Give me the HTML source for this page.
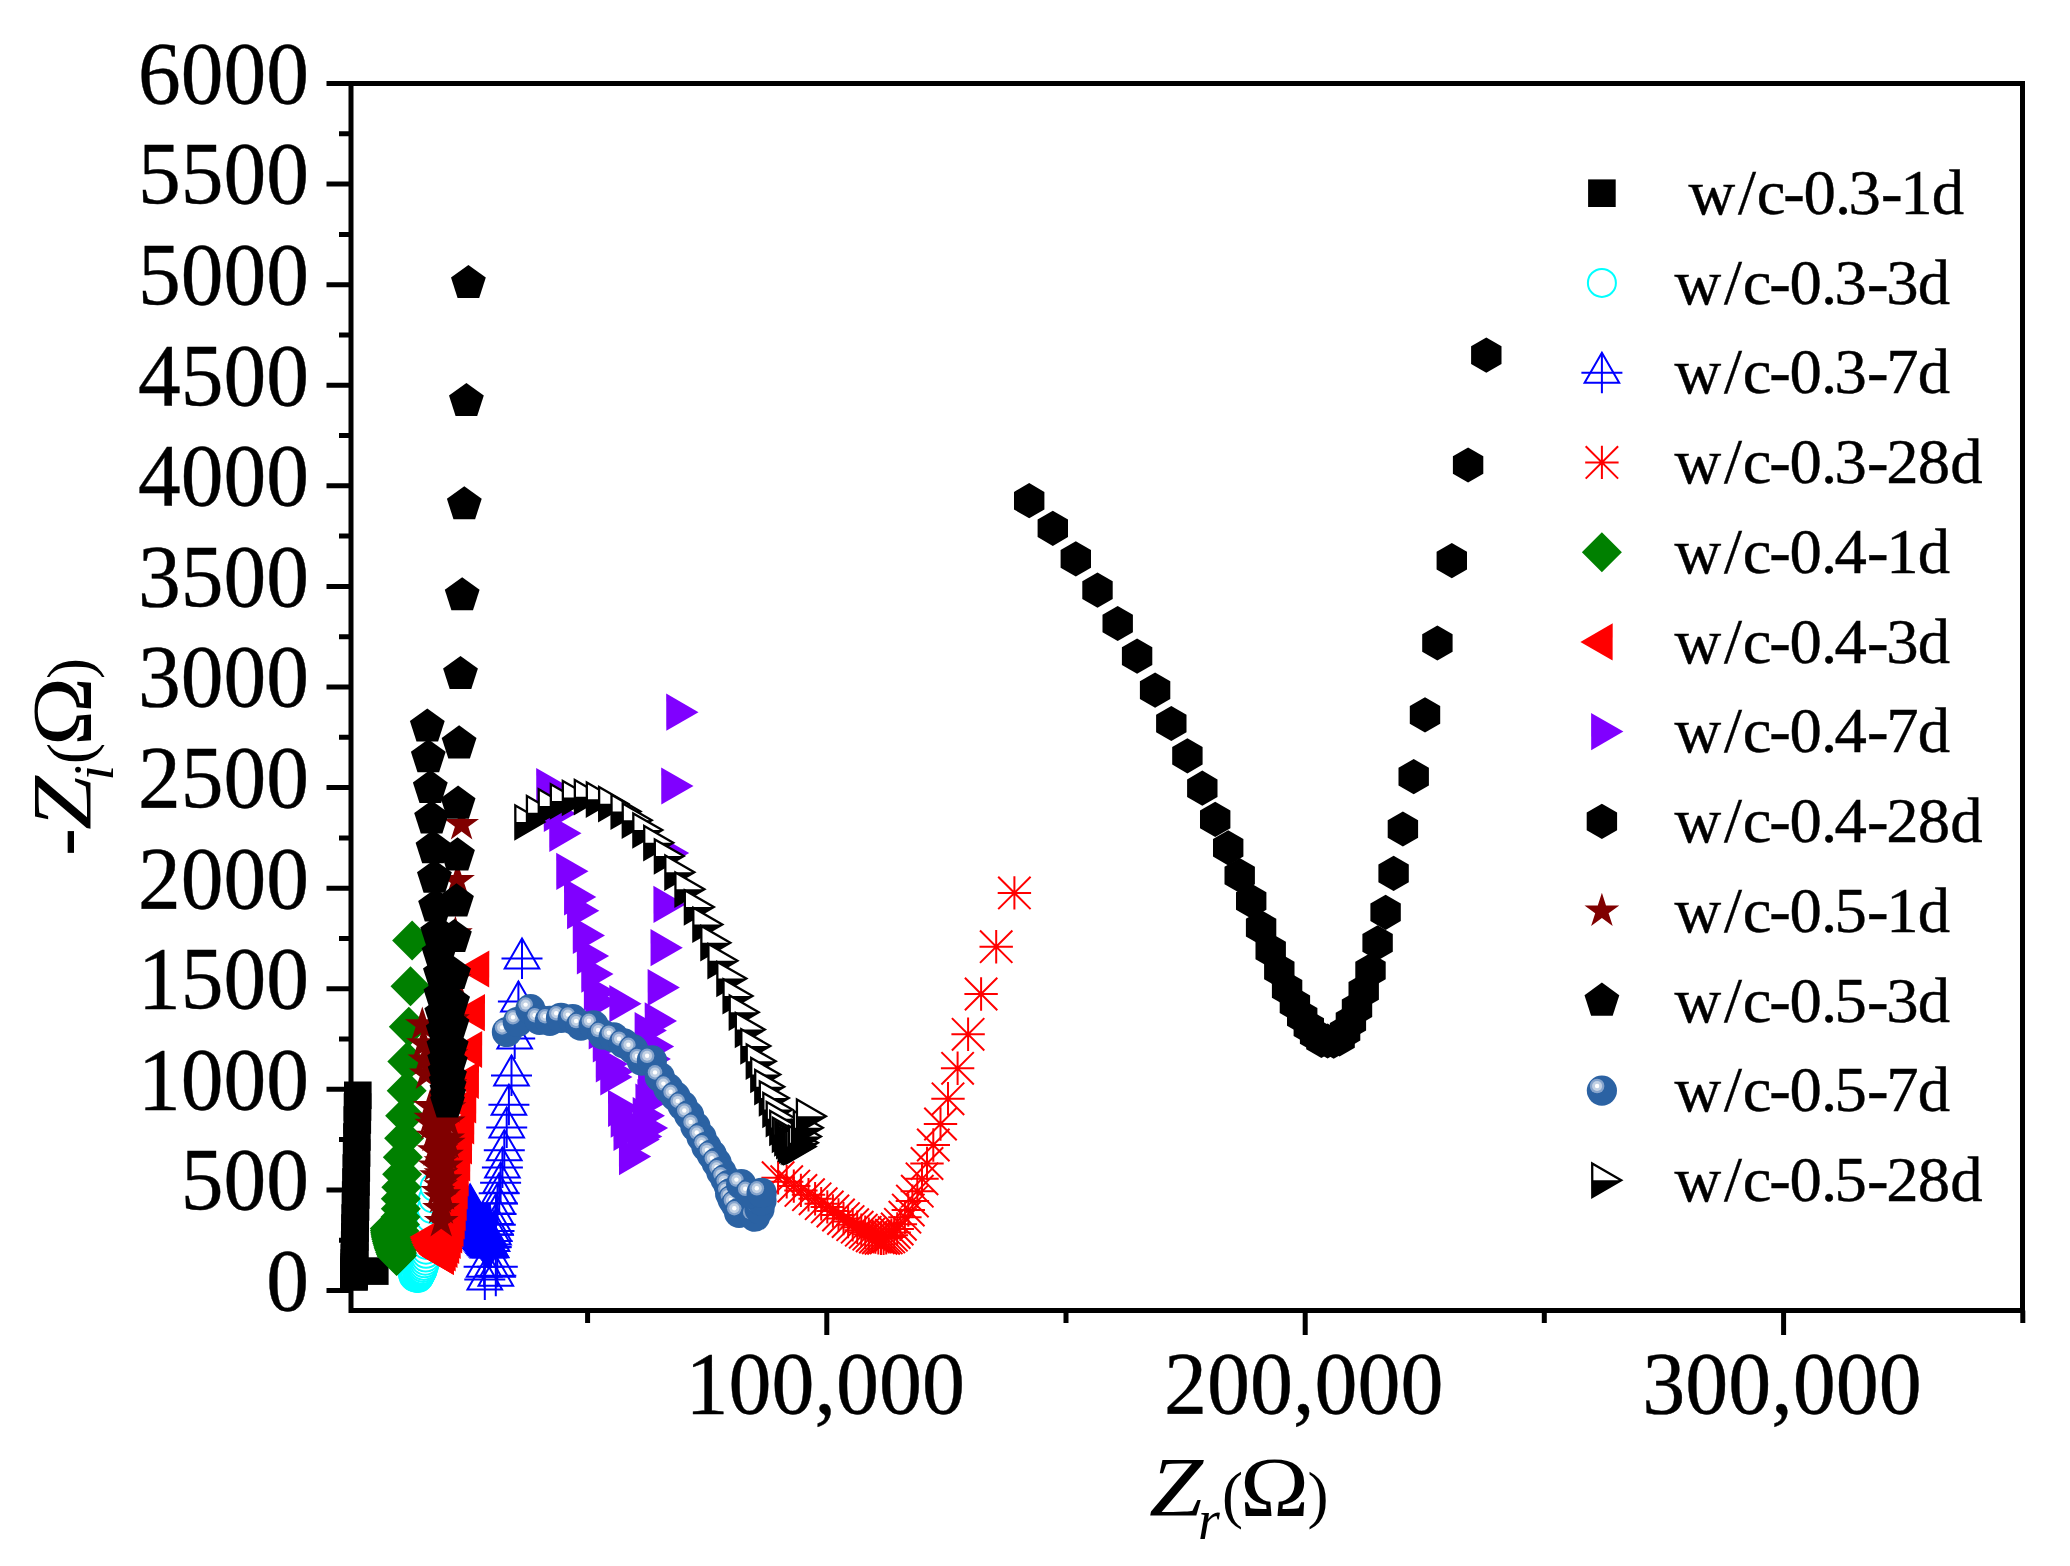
<!DOCTYPE html>
<html lang="en"><head><meta charset="utf-8"><title>Nyquist plot</title><style>html,body{margin:0;padding:0;background:#fff}svg{display:block}</style></head><body>
<svg width="2070" height="1566" viewBox="0 0 2070 1566">
<rect width="2070" height="1566" fill="#ffffff"/>
<defs><rect id="m1" x="-13.8" y="-13.8" width="27.6" height="27.6" fill="#000"/><circle id="m2" r="14" fill="#fff" stroke="#00ffff" stroke-width="2"/><g id="m3" fill="none" stroke="#0000ff" stroke-width="2"><polygon points="0,-20 17.3,10 -17.3,10"/><path d="M-20.5 0H20.5M0 -20V20.5"/></g><path id="m4" d="M-16.7 0H16.7M0 -16.7V16.7M-16.2 -16.2L16.2 16.2M-16.2 16.2L16.2 -16.2" fill="none" stroke="#ff0000" stroke-width="2"/><polygon id="m5" points="0,-20 20,0 0,20 -20,0" fill="#008000"/><polygon id="m6" points="-21.5,0 10.8,-18.6 10.7,18.6" fill="#ff0000"/><polygon id="m7" points="21.5,0 -10.7,18.6 -10.8,-18.6" fill="#8000ff"/><polygon id="m8" points="0,-17.6 15.2,-8.8 15.2,8.8 0,17.6 -15.2,8.8 -15.2,-8.8" fill="#000"/><polygon id="m9" points="0,-18.3 4.1,-5.7 17.4,-5.7 6.7,2.2 10.8,14.8 0,7 -10.8,14.8 -6.7,2.2 -17.4,-5.7 -4.1,-5.7" fill="#800000"/><polygon id="m10" points="0,-18.3 17.4,-5.7 10.8,14.8 -10.8,14.8 -17.4,-5.7" fill="#000"/><g id="m11"><circle r="15.1" fill="#2b62a3"/><circle cx="-4.8" cy="-4.6" r="7.3" fill="#86a4cc"/><circle cx="-4.8" cy="-4.6" r="5" fill="#c2d1e4"/><circle cx="-4.8" cy="-4.6" r="2.2" fill="#ffffff"/></g><g id="m12"><polygon points="19.3,0 -9.6,16.7 -9.7,-16.7" fill="#fff"/><polygon points="19.3,0 -9.6,16.7 -9.6,0" fill="#000"/><polygon points="19.3,0 -9.6,16.7 -9.7,-16.7" fill="none" stroke="#000" stroke-width="2.3" stroke-linejoin="miter"/></g></defs>
<g>
<use href="#m1" x="374.8" y="1271.1"/><use href="#m1" x="354" y="1277"/><use href="#m1" x="354" y="1276"/><use href="#m1" x="354" y="1275"/><use href="#m1" x="354.1" y="1273.5"/><use href="#m1" x="354.1" y="1272"/><use href="#m1" x="354.1" y="1270"/><use href="#m1" x="354.2" y="1267"/><use href="#m1" x="354.3" y="1263"/><use href="#m1" x="354.4" y="1258"/><use href="#m1" x="354.5" y="1252"/><use href="#m1" x="354.7" y="1245"/><use href="#m1" x="354.8" y="1237"/><use href="#m1" x="355" y="1228"/><use href="#m1" x="355.2" y="1218"/><use href="#m1" x="355.5" y="1207"/><use href="#m1" x="355.7" y="1195"/><use href="#m1" x="356" y="1182"/><use href="#m1" x="356.3" y="1168"/><use href="#m1" x="356.6" y="1153"/><use href="#m1" x="356.9" y="1137"/><use href="#m1" x="357.3" y="1120"/><use href="#m1" x="357.5" y="1107"/><use href="#m1" x="357.8" y="1095.3"/>
</g>
<g>
<use href="#m2" x="410.5" y="1262"/><use href="#m2" x="411.2" y="1266.5"/><use href="#m2" x="412" y="1270.5"/><use href="#m2" x="412.8" y="1273.5"/><use href="#m2" x="413.5" y="1276"/><use href="#m2" x="414.4" y="1277"/><use href="#m2" x="415.5" y="1277.5"/><use href="#m2" x="416.9" y="1278"/><use href="#m2" x="418.4" y="1278"/><use href="#m2" x="418.8" y="1277.2"/><use href="#m2" x="419.3" y="1276.3"/><use href="#m2" x="419.8" y="1275.4"/><use href="#m2" x="420.3" y="1274.5"/><use href="#m2" x="420.8" y="1273.6"/><use href="#m2" x="421.3" y="1272.6"/><use href="#m2" x="421.8" y="1271.6"/><use href="#m2" x="422.2" y="1270.7"/><use href="#m2" x="422.6" y="1269.7"/><use href="#m2" x="423.2" y="1267.9"/><use href="#m2" x="423.9" y="1265.9"/><use href="#m2" x="424.6" y="1263.3"/><use href="#m2" x="425.3" y="1260.7"/><use href="#m2" x="425.7" y="1257.6"/><use href="#m2" x="426" y="1253.8"/><use href="#m2" x="426" y="1249.7"/><use href="#m2" x="426.5" y="1245"/><use href="#m2" x="427.2" y="1239.5"/><use href="#m2" x="428" y="1233"/><use href="#m2" x="429" y="1226"/><use href="#m2" x="430.2" y="1218"/><use href="#m2" x="431.5" y="1209"/><use href="#m2" x="433" y="1198.5"/><use href="#m2" x="434.5" y="1187"/>
</g>
<g>
<use href="#m3" x="484.8" y="1279.5"/><use href="#m3" x="495.8" y="1275.7"/><use href="#m3" x="484.1" y="1266.8"/><use href="#m3" x="497.3" y="1266.8"/><use href="#m3" x="470.1" y="1204.5"/><use href="#m3" x="470.4" y="1206"/><use href="#m3" x="470.7" y="1207.5"/><use href="#m3" x="470.9" y="1209"/><use href="#m3" x="471.2" y="1210.5"/><use href="#m3" x="471.5" y="1212"/><use href="#m3" x="471.8" y="1213.5"/><use href="#m3" x="472.2" y="1215"/><use href="#m3" x="472.5" y="1216.5"/><use href="#m3" x="472.8" y="1218"/><use href="#m3" x="473.2" y="1219.5"/><use href="#m3" x="473.5" y="1221"/><use href="#m3" x="474" y="1222.4"/><use href="#m3" x="474.5" y="1223.9"/><use href="#m3" x="474.9" y="1225.3"/><use href="#m3" x="475.4" y="1226.8"/><use href="#m3" x="475.9" y="1228.2"/><use href="#m3" x="476.4" y="1229.7"/><use href="#m3" x="477" y="1231.1"/><use href="#m3" x="477.7" y="1232.4"/><use href="#m3" x="478.4" y="1233.8"/><use href="#m3" x="479.1" y="1235.2"/><use href="#m3" x="479.8" y="1236.5"/><use href="#m3" x="480.5" y="1237.9"/><use href="#m3" x="481.3" y="1239.2"/><use href="#m3" x="482.2" y="1240.4"/><use href="#m3" x="483.1" y="1241.7"/><use href="#m3" x="483.9" y="1242.9"/><use href="#m3" x="484.8" y="1244.2"/><use href="#m3" x="485.8" y="1245.3"/><use href="#m3" x="486.9" y="1246.4"/><use href="#m3" x="488" y="1247.5"/><use href="#m3" x="489.5" y="1247.3"/><use href="#m3" x="491" y="1247"/><use href="#m3" x="491" y="1247.2"/><use href="#m3" x="492" y="1240.9"/><use href="#m3" x="493.5" y="1234.6"/><use href="#m3" x="494" y="1231.1"/><use href="#m3" x="495.3" y="1224.8"/><use href="#m3" x="496" y="1213.9"/><use href="#m3" x="497.5" y="1203.6"/><use href="#m3" x="499.2" y="1193.2"/><use href="#m3" x="500.6" y="1182.8"/><use href="#m3" x="502.4" y="1167.6"/><use href="#m3" x="504.3" y="1150.3"/><use href="#m3" x="506.7" y="1127.5"/><use href="#m3" x="508.9" y="1104.7"/><use href="#m3" x="511.5" y="1075.4"/><use href="#m3" x="514.7" y="1038.6"/><use href="#m3" x="518.4" y="1001.6"/><use href="#m3" x="522" y="958.4"/>
</g>
<g>
<use href="#m4" x="778.1" y="1177.7"/><use href="#m4" x="786.7" y="1181.7"/><use href="#m4" x="793.8" y="1186.1"/><use href="#m4" x="800.9" y="1190.4"/><use href="#m4" x="808.5" y="1194.7"/><use href="#m4" x="815.1" y="1198.8"/><use href="#m4" x="821.2" y="1203.7"/><use href="#m4" x="827.3" y="1206.9"/><use href="#m4" x="832.9" y="1211"/><use href="#m4" x="838.5" y="1215"/><use href="#m4" x="843.5" y="1218.6"/><use href="#m4" x="848.1" y="1221.6"/><use href="#m4" x="852.7" y="1224.7"/><use href="#m4" x="857.2" y="1227.2"/><use href="#m4" x="861.3" y="1230.2"/><use href="#m4" x="865.2" y="1232.3"/><use href="#m4" x="868.8" y="1234.2"/><use href="#m4" x="872.2" y="1235.8"/><use href="#m4" x="875.4" y="1237"/><use href="#m4" x="878.3" y="1237.8"/><use href="#m4" x="881" y="1238.3"/><use href="#m4" x="883.6" y="1238.3"/><use href="#m4" x="886.2" y="1237.9"/><use href="#m4" x="888.8" y="1236.9"/><use href="#m4" x="891.4" y="1235.2"/><use href="#m4" x="894.2" y="1232.6"/><use href="#m4" x="897.2" y="1229"/><use href="#m4" x="900.4" y="1224.3"/><use href="#m4" x="904.9" y="1217.2"/><use href="#m4" x="908.3" y="1210.1"/><use href="#m4" x="912.4" y="1201.1"/><use href="#m4" x="917.3" y="1191.2"/><use href="#m4" x="922" y="1178.8"/><use href="#m4" x="927" y="1163.5"/><use href="#m4" x="933.3" y="1145"/><use href="#m4" x="940.5" y="1124"/><use href="#m4" x="948" y="1098.8"/><use href="#m4" x="957.6" y="1068.3"/><use href="#m4" x="968.1" y="1034.3"/><use href="#m4" x="981.1" y="994"/><use href="#m4" x="996.2" y="946.7"/><use href="#m4" x="1014.4" y="892.9"/>
</g>
<g>
<use href="#m5" x="389.8" y="1228.6"/><use href="#m5" x="389.9" y="1230.4"/><use href="#m5" x="390.1" y="1232.3"/><use href="#m5" x="390.3" y="1234.1"/><use href="#m5" x="390.6" y="1235.9"/><use href="#m5" x="391" y="1237.8"/><use href="#m5" x="391.4" y="1239.6"/><use href="#m5" x="391.8" y="1241.4"/><use href="#m5" x="392.3" y="1243.3"/><use href="#m5" x="392.8" y="1245.1"/><use href="#m5" x="393.4" y="1246.9"/><use href="#m5" x="393.9" y="1248.8"/><use href="#m5" x="394.6" y="1250.6"/><use href="#m5" x="395.2" y="1252.4"/><use href="#m5" x="395.9" y="1254.3"/><use href="#m5" x="396.6" y="1256.1"/><use href="#m5" x="396.8" y="1255.5"/><use href="#m5" x="397" y="1253"/><use href="#m5" x="397.5" y="1250"/><use href="#m5" x="398" y="1246.5"/><use href="#m5" x="398.5" y="1242"/><use href="#m5" x="399" y="1237"/><use href="#m5" x="399.5" y="1231"/><use href="#m5" x="400" y="1224.5"/><use href="#m5" x="400.5" y="1217"/><use href="#m5" x="400.8" y="1208.7"/><use href="#m5" x="400.8" y="1198.7"/><use href="#m5" x="401.3" y="1187.2"/><use href="#m5" x="402.1" y="1174.2"/><use href="#m5" x="402.8" y="1157.3"/><use href="#m5" x="404.1" y="1138.2"/><use href="#m5" x="405.1" y="1115.8"/><use href="#m5" x="406.7" y="1090.7"/><use href="#m5" x="407.3" y="1061.4"/><use href="#m5" x="408.8" y="1026.7"/><use href="#m5" x="410.5" y="986.2"/><use href="#m5" x="412.1" y="940.6"/>
</g>
<g>
<use href="#m6" x="431" y="1237"/><use href="#m6" x="431.5" y="1238.7"/><use href="#m6" x="432" y="1240.4"/><use href="#m6" x="432.6" y="1242.2"/><use href="#m6" x="433.3" y="1243.8"/><use href="#m6" x="434" y="1245.5"/><use href="#m6" x="434.9" y="1247.1"/><use href="#m6" x="435.8" y="1248.6"/><use href="#m6" x="436.8" y="1250.1"/><use href="#m6" x="437.9" y="1251.5"/><use href="#m6" x="439" y="1252.9"/><use href="#m6" x="440.3" y="1254.2"/><use href="#m6" x="441.7" y="1255.2"/><use href="#m6" x="443.2" y="1256.3"/><use href="#m6" x="443.2" y="1256.3"/><use href="#m6" x="445" y="1253"/><use href="#m6" x="446.8" y="1249.5"/><use href="#m6" x="448.5" y="1245.5"/><use href="#m6" x="450" y="1240.5"/><use href="#m6" x="451.5" y="1235"/><use href="#m6" x="452.8" y="1228.5"/><use href="#m6" x="454" y="1221"/><use href="#m6" x="455" y="1212.5"/><use href="#m6" x="456" y="1202.5"/><use href="#m6" x="457" y="1191"/><use href="#m6" x="458" y="1178"/><use href="#m6" x="459.5" y="1163"/><use href="#m6" x="461.3" y="1146"/><use href="#m6" x="463.5" y="1126"/><use href="#m6" x="465.5" y="1105"/><use href="#m6" x="468.2" y="1080.4"/><use href="#m6" x="471.4" y="1049.5"/><use href="#m6" x="474.2" y="1012.6"/><use href="#m6" x="478.5" y="969"/>
</g>
<g>
<use href="#m7" x="547" y="786.6"/><use href="#m7" x="554.5" y="813.4"/><use href="#m7" x="560" y="833.3"/><use href="#m7" x="567" y="871.3"/><use href="#m7" x="574.8" y="896.9"/><use href="#m7" x="577.8" y="910.7"/><use href="#m7" x="583.5" y="935.4"/><use href="#m7" x="587.6" y="956"/><use href="#m7" x="592" y="974.1"/><use href="#m7" x="594.6" y="992"/><use href="#m7" x="596" y="1002"/><use href="#m7" x="599.4" y="1031"/><use href="#m7" x="603.5" y="1043.9"/><use href="#m7" x="606.5" y="1064"/><use href="#m7" x="612" y="1071.5"/><use href="#m7" x="611" y="1076.9"/><use href="#m7" x="618.8" y="1108.3"/><use href="#m7" x="621.4" y="1119.2"/><use href="#m7" x="624.2" y="1132.4"/><use href="#m7" x="629.7" y="1156.6"/><use href="#m7" x="638.3" y="1139.6"/><use href="#m7" x="640.8" y="1136.4"/><use href="#m7" x="646.6" y="1128.1"/><use href="#m7" x="643.5" y="1115.7"/><use href="#m7" x="646.2" y="1102"/><use href="#m7" x="648.2" y="1097.5"/><use href="#m7" x="649" y="1085"/><use href="#m7" x="649.2" y="1072"/><use href="#m7" x="649.4" y="1058.9"/><use href="#m7" x="652.7" y="1046.6"/><use href="#m7" x="645.4" y="1030.6"/><use href="#m7" x="655.5" y="1020.9"/><use href="#m7" x="620.1" y="1003.7"/><use href="#m7" x="658.4" y="987.5"/><use href="#m7" x="661.3" y="947.7"/><use href="#m7" x="664.2" y="904.4"/><use href="#m7" x="667.7" y="853.1"/><use href="#m7" x="672" y="786"/><use href="#m7" x="677" y="712.2"/>
</g>
<g>
<use href="#m8" x="1029.2" y="500.7"/><use href="#m8" x="1052.8" y="528.3"/><use href="#m8" x="1075.8" y="558.9"/><use href="#m8" x="1097.5" y="590.1"/><use href="#m8" x="1117.7" y="623.5"/><use href="#m8" x="1137.1" y="656.1"/><use href="#m8" x="1155.1" y="690.1"/><use href="#m8" x="1171.3" y="723.5"/><use href="#m8" x="1187.4" y="755.8"/><use href="#m8" x="1202.3" y="788.2"/><use href="#m8" x="1215.2" y="819.4"/><use href="#m8" x="1228.2" y="847.8"/><use href="#m8" x="1239.7" y="875.5"/><use href="#m8" x="1251.2" y="901"/><use href="#m8" x="1261.1" y="927.6"/><use href="#m8" x="1270.7" y="950.5"/><use href="#m8" x="1279.3" y="970.5"/><use href="#m8" x="1287.1" y="988.9"/><use href="#m8" x="1294.9" y="1004.2"/><use href="#m8" x="1302.2" y="1016.9"/><use href="#m8" x="1308.8" y="1027.1"/><use href="#m8" x="1315.1" y="1034.9"/><use href="#m8" x="1321.4" y="1040.4"/><use href="#m8" x="1327.6" y="1041"/><use href="#m8" x="1333.7" y="1041.2"/><use href="#m8" x="1339.6" y="1039"/><use href="#m8" x="1345.1" y="1031.8"/><use href="#m8" x="1350.9" y="1021.6"/><use href="#m8" x="1357" y="1008.3"/><use href="#m8" x="1363.7" y="990.9"/><use href="#m8" x="1370.5" y="970.5"/><use href="#m8" x="1377.6" y="942.9"/><use href="#m8" x="1385.6" y="912.3"/><use href="#m8" x="1393.6" y="873.4"/><use href="#m8" x="1402.9" y="829"/><use href="#m8" x="1413.7" y="776.6"/><use href="#m8" x="1425" y="714.9"/><use href="#m8" x="1437.4" y="643"/><use href="#m8" x="1451.8" y="560.6"/><use href="#m8" x="1468.1" y="465"/><use href="#m8" x="1486.3" y="355.1"/>
</g>
<g>
<use href="#m9" x="440" y="1125"/><use href="#m9" x="440.5" y="1138"/><use href="#m9" x="441" y="1150"/><use href="#m9" x="441" y="1162"/><use href="#m9" x="441" y="1174"/><use href="#m9" x="440.5" y="1186"/><use href="#m9" x="440.5" y="1198"/><use href="#m9" x="422.3" y="1024.9"/><use href="#m9" x="423.5" y="1043.9"/><use href="#m9" x="424.9" y="1060.2"/><use href="#m9" x="426.4" y="1074.3"/><use href="#m9" x="430.3" y="1106.6"/><use href="#m9" x="430.9" y="1118.5"/><use href="#m9" x="431.7" y="1124.5"/><use href="#m9" x="433" y="1136.4"/><use href="#m9" x="434.1" y="1151"/><use href="#m9" x="435.2" y="1166.3"/><use href="#m9" x="436.5" y="1176"/><use href="#m9" x="437.9" y="1191.8"/><use href="#m9" x="439.5" y="1208.6"/><use href="#m9" x="441.2" y="1221.8"/><use href="#m9" x="442.5" y="1209"/><use href="#m9" x="443.6" y="1195"/><use href="#m9" x="445" y="1180"/><use href="#m9" x="446" y="1166.3"/><use href="#m9" x="446.5" y="1155.4"/><use href="#m9" x="448.2" y="1143.5"/><use href="#m9" x="447.6" y="1139.1"/><use href="#m9" x="448.2" y="1122.3"/><use href="#m9" x="449" y="1108"/><use href="#m9" x="450" y="1085"/><use href="#m9" x="451" y="1055"/><use href="#m9" x="452.5" y="1020"/><use href="#m9" x="454" y="980"/><use href="#m9" x="455.4" y="934"/><use href="#m9" x="457.5" y="880.8"/><use href="#m9" x="461.6" y="824.6"/>
</g>
<g>
<use href="#m10" x="427.3" y="726.8"/><use href="#m10" x="428.3" y="757.5"/><use href="#m10" x="430.3" y="788.1"/><use href="#m10" x="431.6" y="818.8"/><use href="#m10" x="433" y="848.4"/><use href="#m10" x="434.4" y="878"/><use href="#m10" x="435.6" y="906.7"/><use href="#m10" x="437.7" y="933.2"/><use href="#m10" x="439" y="954"/><use href="#m10" x="440.4" y="974.2"/><use href="#m10" x="440.9" y="995.3"/><use href="#m10" x="441.8" y="1013.9"/><use href="#m10" x="443.2" y="1031.1"/><use href="#m10" x="443.9" y="1047.2"/><use href="#m10" x="444.7" y="1061"/><use href="#m10" x="445.2" y="1072.5"/><use href="#m10" x="446.2" y="1082.8"/><use href="#m10" x="447" y="1091"/><use href="#m10" x="447.3" y="1097"/><use href="#m10" x="447.5" y="1102.8"/><use href="#m10" x="448.6" y="1095.5"/><use href="#m10" x="449.1" y="1087.4"/><use href="#m10" x="449.5" y="1077.1"/><use href="#m10" x="450.3" y="1063.3"/><use href="#m10" x="451.2" y="1047.2"/><use href="#m10" x="452" y="1025.4"/><use href="#m10" x="452.6" y="1002.4"/><use href="#m10" x="453.5" y="974.2"/><use href="#m10" x="454.4" y="937.3"/><use href="#m10" x="456.5" y="901.6"/><use href="#m10" x="457.5" y="855.6"/><use href="#m10" x="458.1" y="803.9"/><use href="#m10" x="459.1" y="743.6"/><use href="#m10" x="460.5" y="674.3"/><use href="#m10" x="462.2" y="595.5"/><use href="#m10" x="464.3" y="504.5"/><use href="#m10" x="466.4" y="401.3"/><use href="#m10" x="468.4" y="283.2"/>
</g>
<g>
<use href="#m11" x="506.9" y="1032"/><use href="#m11" x="517.8" y="1021.8"/><use href="#m11" x="530.4" y="1009.2"/><use href="#m11" x="539.5" y="1019.8"/><use href="#m11" x="549.8" y="1020.8"/><use href="#m11" x="561" y="1017.9"/><use href="#m11" x="572.7" y="1019.2"/><use href="#m11" x="580.9" y="1025.6"/><use href="#m11" x="593.7" y="1025.4"/><use href="#m11" x="602.9" y="1034.6"/><use href="#m11" x="613.6" y="1037.3"/><use href="#m11" x="623.8" y="1043.3"/><use href="#m11" x="633.2" y="1049.4"/><use href="#m11" x="641.7" y="1060.6"/><use href="#m11" x="651.9" y="1060.4"/><use href="#m11" x="659.8" y="1077"/><use href="#m11" x="668.2" y="1088.2"/><use href="#m11" x="675.4" y="1096.4"/><use href="#m11" x="682.5" y="1105.5"/><use href="#m11" x="689.1" y="1115.1"/><use href="#m11" x="695.4" y="1126.5"/><use href="#m11" x="701.5" y="1137.1"/><use href="#m11" x="706.4" y="1146.8"/><use href="#m11" x="711.7" y="1154.5"/><use href="#m11" x="716.6" y="1162.7"/><use href="#m11" x="721.3" y="1171.9"/><use href="#m11" x="725.4" y="1179"/><use href="#m11" x="728.5" y="1185.2"/><use href="#m11" x="730.1" y="1193.4"/><use href="#m11" x="732.6" y="1199.5"/><use href="#m11" x="735.7" y="1204.6"/><use href="#m11" x="739.1" y="1212.8"/><use href="#m11" x="755" y="1216.7"/><use href="#m11" x="759.5" y="1209"/><use href="#m11" x="761.5" y="1200.5"/><use href="#m11" x="741.2" y="1184.2"/><use href="#m11" x="750" y="1193.4"/><use href="#m11" x="761.6" y="1192.9"/>
</g>
<g>
<use href="#m12" x="525" y="822.1"/><use href="#m12" x="536.6" y="812.8"/><use href="#m12" x="548.4" y="806"/><use href="#m12" x="560.5" y="801"/><use href="#m12" x="572.5" y="797.6"/><use href="#m12" x="584.5" y="796.7"/><use href="#m12" x="596.5" y="799.2"/><use href="#m12" x="608.8" y="803.8"/><use href="#m12" x="621.2" y="811.4"/><use href="#m12" x="632.4" y="820.3"/><use href="#m12" x="643" y="830.1"/><use href="#m12" x="653.9" y="842.7"/><use href="#m12" x="664.5" y="856.1"/><use href="#m12" x="675" y="872.2"/><use href="#m12" x="685.1" y="889.2"/><use href="#m12" x="694.5" y="907"/><use href="#m12" x="703" y="924.4"/><use href="#m12" x="711" y="942.8"/><use href="#m12" x="718.1" y="960.7"/><use href="#m12" x="727" y="978.6"/><use href="#m12" x="733.2" y="995.9"/><use href="#m12" x="739.4" y="1012.3"/><use href="#m12" x="745.5" y="1029.6"/><use href="#m12" x="751" y="1046"/><use href="#m12" x="756.4" y="1061.3"/><use href="#m12" x="760.9" y="1074.6"/><use href="#m12" x="764.9" y="1086.7"/><use href="#m12" x="769.5" y="1098.1"/><use href="#m12" x="773" y="1109.6"/><use href="#m12" x="776.4" y="1118.8"/><use href="#m12" x="779.9" y="1127.6"/><use href="#m12" x="782.5" y="1134.5"/><use href="#m12" x="784.9" y="1138"/><use href="#m12" x="786.8" y="1140.7"/><use href="#m12" x="788.3" y="1143.7"/><use href="#m12" x="789.8" y="1145.2"/><use href="#m12" x="791.4" y="1146.3"/><use href="#m12" x="792.5" y="1146.8"/><use href="#m12" x="793.7" y="1147"/><use href="#m12" x="794.5" y="1146.9"/><use href="#m12" x="796.3" y="1146.6"/><use href="#m12" x="798.6" y="1142.8"/><use href="#m12" x="801.6" y="1136.6"/><use href="#m12" x="803.5" y="1127.8"/><use href="#m12" x="806.6" y="1116.3"/>
</g>
<g stroke="#000" stroke-width="5" fill="none">
<rect x="351" y="83.5" width="1671.5" height="1227"/>
<path d="M326.5 1290.5H351M339 1240.2H351M326.5 1189.9H351M339 1139.6H351M326.5 1089.3H351M339 1039H351M326.5 988.8H351M339 938.5H351M326.5 888.2H351M339 837.9H351M326.5 787.6H351M339 737.3H351M326.5 687H351M339 636.7H351M326.5 586.4H351M339 536.1H351M326.5 485.8H351M339 435.5H351M326.5 385.2H351M339 335H351M326.5 284.7H351M339 234.4H351M326.5 184.1H351M339 133.8H351M326.5 83.5H351M587.6 1310.5V1323M826.8 1310.5V1335M1066 1310.5V1323M1305.2 1310.5V1335M1544.3 1310.5V1323M1783.6 1310.5V1335M2022.8 1310.5V1323"/>
</g>
<g fill="#000" stroke="#000" stroke-width="0.4" style="font-family:'Liberation Serif','DejaVu Serif',serif">
<text transform="translate(309 1309.8) scale(1.006 1.055)" font-size="85" text-anchor="end">0</text>
<text transform="translate(309 1209.2) scale(1.006 1.055)" font-size="85" text-anchor="end">500</text>
<text transform="translate(309 1108.6) scale(1.006 1.055)" font-size="85" text-anchor="end">1000</text>
<text transform="translate(309 1008) scale(1.006 1.055)" font-size="85" text-anchor="end">1500</text>
<text transform="translate(309 907.5) scale(1.006 1.055)" font-size="85" text-anchor="end">2000</text>
<text transform="translate(309 806.9) scale(1.006 1.055)" font-size="85" text-anchor="end">2500</text>
<text transform="translate(309 706.3) scale(1.006 1.055)" font-size="85" text-anchor="end">3000</text>
<text transform="translate(309 605.7) scale(1.006 1.055)" font-size="85" text-anchor="end">3500</text>
<text transform="translate(309 505.1) scale(1.006 1.055)" font-size="85" text-anchor="end">4000</text>
<text transform="translate(309 404.6) scale(1.006 1.055)" font-size="85" text-anchor="end">4500</text>
<text transform="translate(309 304) scale(1.006 1.055)" font-size="85" text-anchor="end">5000</text>
<text transform="translate(309 203.4) scale(1.006 1.055)" font-size="85" text-anchor="end">5500</text>
<text transform="translate(309 102.8) scale(1.006 1.055)" font-size="85" text-anchor="end">6000</text>
<text transform="translate(825.2 1412.5) scale(1.012 1.055)" font-size="85" text-anchor="middle">100,000</text>
<text transform="translate(1303.7 1412.5) scale(1.012 1.055)" font-size="85" text-anchor="middle">200,000</text>
<text transform="translate(1782.1 1412.5) scale(1.012 1.055)" font-size="85" text-anchor="middle">300,000</text>
<text transform="translate(1688 213.8) scale(1.06 1.03)" font-size="61" dx="0.5 2.6 0.85 -2.2 -1.2 -0.85 -2.5 0.3 -2.2 -0.7">w/c-0.3-1d</text>
<text transform="translate(1674 303.5) scale(1.06 1.03)" font-size="61" dx="0.5 2.6 0.85 -2.2 -1.2 -0.85 -2.5 0.3 -2.2 -0.7">w/c-0.3-3d</text>
<text transform="translate(1674 393.3) scale(1.06 1.03)" font-size="61" dx="0.5 2.6 0.85 -2.2 -1.2 -0.85 -2.5 0.3 -2.2 -0.7">w/c-0.3-7d</text>
<text transform="translate(1674 483) scale(1.06 1.03)" font-size="61" dx="0.5 2.6 0.85 -2.2 -1.2 -0.85 -2.5 0.3 -2.2 -0.7">w/c-0.3-28d</text>
<text transform="translate(1674 572.8) scale(1.06 1.03)" font-size="61" dx="0.5 2.6 0.85 -2.2 -1.2 -0.85 -2.5 0.3 -2.2 -0.7">w/c-0.4-1d</text>
<text transform="translate(1674 662.5) scale(1.06 1.03)" font-size="61" dx="0.5 2.6 0.85 -2.2 -1.2 -0.85 -2.5 0.3 -2.2 -0.7">w/c-0.4-3d</text>
<text transform="translate(1674 752.2) scale(1.06 1.03)" font-size="61" dx="0.5 2.6 0.85 -2.2 -1.2 -0.85 -2.5 0.3 -2.2 -0.7">w/c-0.4-7d</text>
<text transform="translate(1674 842) scale(1.06 1.03)" font-size="61" dx="0.5 2.6 0.85 -2.2 -1.2 -0.85 -2.5 0.3 -2.2 -0.7">w/c-0.4-28d</text>
<text transform="translate(1674 931.7) scale(1.06 1.03)" font-size="61" dx="0.5 2.6 0.85 -2.2 -1.2 -0.85 -2.5 0.3 -2.2 -0.7">w/c-0.5-1d</text>
<text transform="translate(1674 1021.5) scale(1.06 1.03)" font-size="61" dx="0.5 2.6 0.85 -2.2 -1.2 -0.85 -2.5 0.3 -2.2 -0.7">w/c-0.5-3d</text>
<text transform="translate(1674 1111.2) scale(1.06 1.03)" font-size="61" dx="0.5 2.6 0.85 -2.2 -1.2 -0.85 -2.5 0.3 -2.2 -0.7">w/c-0.5-7d</text>
<text transform="translate(1674 1200.9) scale(1.06 1.03)" font-size="61" dx="0.5 2.6 0.85 -2.2 -1.2 -0.85 -2.5 0.3 -2.2 -0.7">w/c-0.5-28d</text>
</g>
<use href="#m1" x="1601.9" y="193.2"/>
<use href="#m2" x="1601.9" y="282.9"/>
<use href="#m3" x="1601.9" y="372.7"/>
<use href="#m4" x="1601.9" y="462.4"/>
<use href="#m5" x="1601.9" y="552.2"/>
<use href="#m6" x="1601.9" y="641.9"/>
<use href="#m7" x="1601.9" y="731.6"/>
<use href="#m8" x="1601.9" y="821.4"/>
<use href="#m9" x="1601.9" y="911.1"/>
<use href="#m10" x="1601.9" y="1000.9"/>
<use href="#m11" x="1601.9" y="1090.6"/>
<use href="#m12" x="1601.9" y="1180.3"/>
<g fill="#000" style="font-family:'Liberation Serif','DejaVu Serif',serif">
<text x="1149" y="1515.8" font-size="84"><tspan font-style="italic" textLength="54" lengthAdjust="spacingAndGlyphs">Z</tspan><tspan x="1198" y="1538.8" font-size="56" font-style="italic">r</tspan><tspan x="1222" y="1515.8" font-size="63">(</tspan><tspan x="1240" y="1515.8" font-size="84" textLength="69" lengthAdjust="spacingAndGlyphs">Ω</tspan><tspan x="1307.5" y="1515.8" font-size="63">)</tspan></text>
<g transform="translate(90.8 0) rotate(-90)">
<text x="-856" y="0" font-size="84">-<tspan x="-830" font-style="italic" textLength="54" lengthAdjust="spacingAndGlyphs">Z</tspan><tspan x="-780.5" y="22.5" font-size="56" font-style="italic">i</tspan><tspan x="-764" y="0" font-size="63">(</tspan><tspan x="-746" y="0" font-size="84" textLength="69" lengthAdjust="spacingAndGlyphs">Ω</tspan><tspan x="-679" y="0" font-size="63">)</tspan></text>
</g>
</g>
</svg>
</body></html>
